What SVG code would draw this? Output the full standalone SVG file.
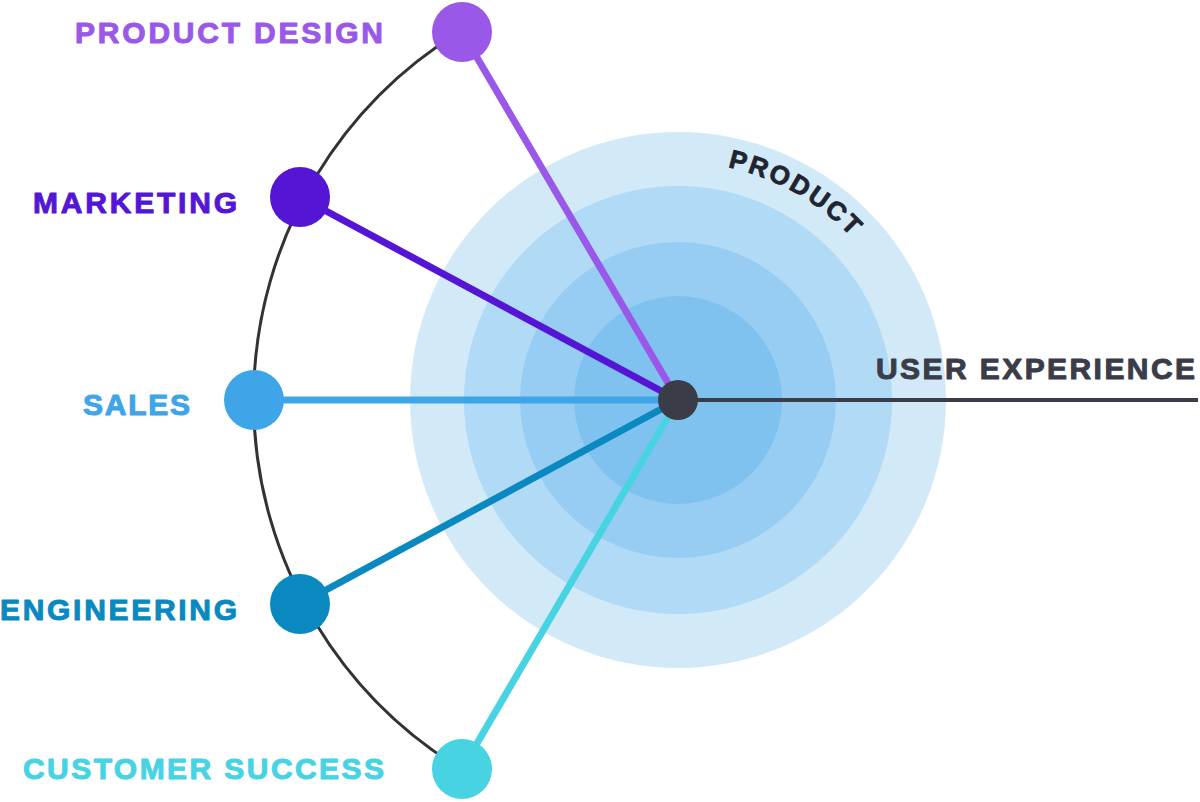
<svg xmlns="http://www.w3.org/2000/svg" width="1200" height="802" viewBox="0 0 1200 802">
<defs>
<style>
.lbl{font-family:"Liberation Sans",Arial,sans-serif;font-weight:700;font-size:30px;stroke-width:1;stroke-linejoin:round}
.prod{font-size:26px;stroke-width:0.8}
.spoke{stroke-width:7;stroke-linecap:butt;fill:none}
</style>
<path id="prodArc" d="M 678,162 A 238 238 0 0 1 916,400"/>
</defs>
<rect width="1200" height="802" fill="#ffffff"/>
<g id="rings">
<circle cx="678" cy="400" r="268" fill="#d2e9f8"/>
<circle cx="678" cy="400" r="214" fill="#b0daf5"/>
<circle cx="678" cy="400" r="158" fill="#97cdf2"/>
<circle cx="678" cy="400" r="104" fill="#80c2ef"/>
<text class="lbl prod" fill="#1f2430" stroke="#1f2430" letter-spacing="2.5"><textPath href="#prodArc" startOffset="50">PRODUCT</textPath></text>
</g>
<g id="connectors">
<path d="M 459.3,32 A 432 432 0 0 0 459.3,768" fill="none" stroke="#333336" stroke-width="3"/>
<line x1="678" y1="400" x2="1198" y2="400" stroke="#3a3d48" stroke-width="4"/>
<line class="spoke" x1="462" y1="32" x2="678" y2="400" stroke="#9a58e8"/>
<line class="spoke" x1="300" y1="197" x2="678" y2="400" stroke="#5416d4"/>
<line class="spoke" x1="255" y1="400" x2="678" y2="400" stroke="#3da5e8"/>
<line class="spoke" x1="300" y1="604" x2="678" y2="400" stroke="#0a89c1"/>
<line class="spoke" x1="462" y1="769" x2="678" y2="400" stroke="#48d3e3"/>
</g>
<g id="node-product-design">
<circle cx="462" cy="32" r="30" fill="#9a58e8"/>
<text class="lbl" x="75" y="43" textLength="308" lengthAdjust="spacing" fill="#9a58e8" stroke="#9a58e8">PRODUCT DESIGN</text>
</g>
<g id="node-marketing">
<circle cx="300" cy="197" r="30" fill="#5416d4"/>
<text class="lbl" x="33" y="213" textLength="204" lengthAdjust="spacing" fill="#5416d4" stroke="#5416d4">MARKETING</text>
</g>
<g id="node-sales">
<circle cx="254" cy="400" r="30" fill="#3da5e8"/>
<text class="lbl" x="83" y="415" textLength="107" lengthAdjust="spacing" fill="#3da5e8" stroke="#3da5e8">SALES</text>
</g>
<g id="node-engineering">
<circle cx="300" cy="604" r="30" fill="#0a89c1"/>
<text class="lbl" x="0" y="620" textLength="237" lengthAdjust="spacing" fill="#0a89c1" stroke="#0a89c1">ENGINEERING</text>
</g>
<g id="node-customer-success">
<circle cx="462" cy="769" r="30" fill="#48d3e3"/>
<text class="lbl" x="23" y="779" textLength="361" lengthAdjust="spacing" fill="#48d3e3" stroke="#48d3e3">CUSTOMER SUCCESS</text>
</g>
<g id="node-user-experience">
<circle cx="678" cy="400" r="20" fill="#3a3d48"/>
<text class="lbl" x="876" y="379" textLength="319" lengthAdjust="spacing" fill="#3a3d48" stroke="#3a3d48">USER EXPERIENCE</text>
</g>
</svg>
